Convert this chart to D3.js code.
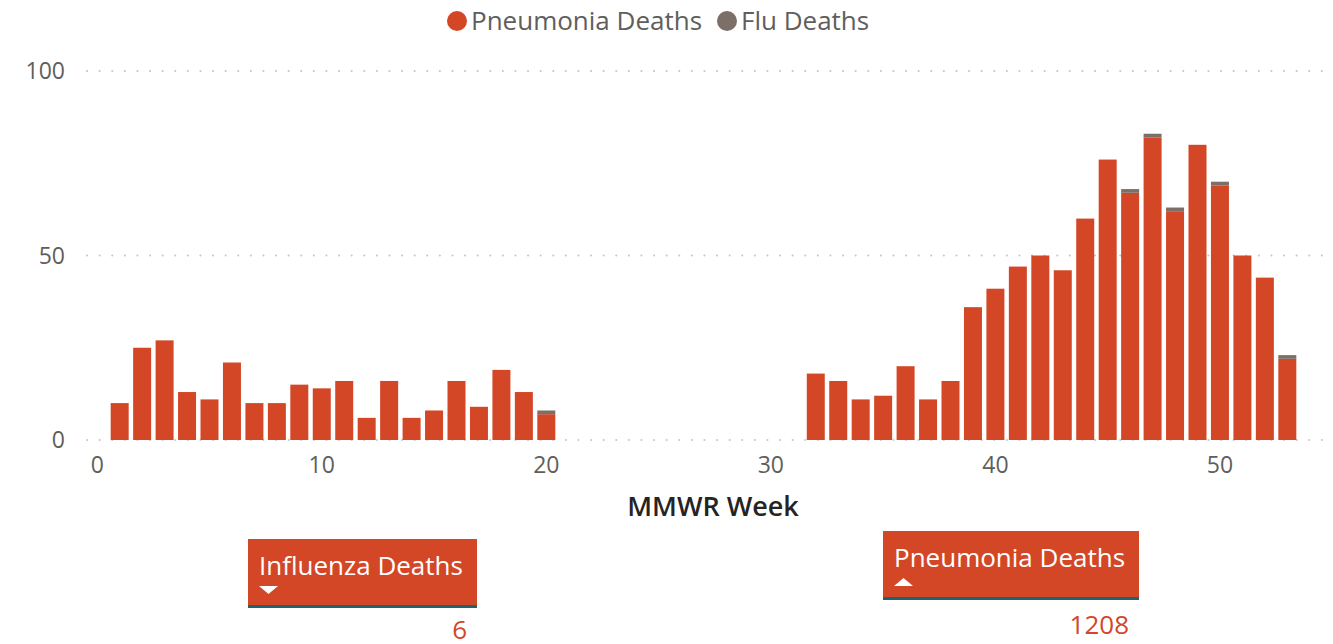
<!DOCTYPE html>
<html>
<head>
<meta charset="utf-8">
<script src="https://cdn.jsdelivr.net/npm/d3@7"></script>
<style>
  body { margin: 0; background: #fff; font-family: "Open Sans", "Noto Sans", sans-serif; }
  .canvas { width: 1333px; height: 644px; }
  .grid line { stroke: #c8c6c4; stroke-width: 2; stroke-dasharray: 0.1 12.5; stroke-linecap: round; }
  .tick-lbl { fill: #605e5c; font-size: 23px; }
</style>
</head>
<body>
<div class="canvas"></div>
<script>
// weeks with data (MMWR week numbers)
var weeks = [1,2,3,4,5,6,7,8,9,10,11,12,13,14,15,16,17,18,19,20,
	32,33,34,35,36,37,38,39,40,41,42,43,44,45,46,47,48,49,50,51,52,53];
var pneumoniaDeaths = [10,25,27,13,11,21,10,10,15,14,16,6,16,6,8,16,9,19,13,7,
	18,16,11,12,20,11,16,36,41,47,50,46,60,76,67,82,62,80,69,50,44,22];
var fluDeaths = [0,0,0,0,0,0,0,0,0,0,0,0,0,0,0,0,0,0,0,1,
	0,0,0,0,0,0,0,0,0,0,0,0,0,0,1,1,1,0,1,0,0,1];
var yTicks = [0, 50, 100];
var xTicks = [0, 10, 20, 30, 40, 50];
var seriesNames = ['Pneumonia Deaths', 'Flu Deaths'];
var colors = ['#d34727', '#7b6f67'];

var width = 1333, height = 644;

var svg = d3.select('.canvas').append('svg')
	.attr('width', width).attr('height', height);

var x = d3.scaleLinear().domain([-0.5, 54.5]).range([86, 1321]);
var y = d3.scaleLinear().domain([0, 100]).range([440, 71]);
var barW = 18;

// gridlines
svg.append('g').attr('class', 'grid')
	.selectAll('line')
	.data(yTicks)
	.enter().append('line')
	.attr('x1', 87).attr('x2', 1325)
	.attr('y1', d => y(d)).attr('y2', d => y(d));

// y labels
svg.append('g').selectAll('text')
	.data(yTicks)
	.enter().append('text')
	.attr('class', 'tick-lbl')
	.attr('x', 65)
	.attr('y', d => y(d))
	.attr('dy', '0.35em')
	.attr('text-anchor', 'end')
	.text(d => d);

// x labels
svg.append('g').selectAll('text')
	.data(xTicks)
	.enter().append('text')
	.attr('class', 'tick-lbl')
	.attr('x', d => x(d))
	.attr('y', 465)
	.attr('dy', '0.35em')
	.attr('text-anchor', 'middle')
	.text(d => d);

svg.append('text')
	.attr('x', 713).attr('y', 507).attr('dy', '0.35em')
	.attr('text-anchor', 'middle')
	.attr('fill', '#252423')
	.attr('font-size', 27).attr('font-weight', 600)
	.text('MMWR Week');

// stacked bars
var rows = weeks.map(function(w, i) {
	return { week: w, p: pneumoniaDeaths[i], f: fluDeaths[i] };
});
var bars = svg.append('g');
bars.selectAll('rect.pn')
	.data(rows)
	.enter().append('rect')
	.attr('x', d => x(d.week) - barW / 2)
	.attr('width', barW)
	.attr('y', d => y(d.p))
	.attr('height', d => y(0) - y(d.p))
	.attr('fill', colors[0]);
bars.selectAll('rect.flu')
	.data(rows.filter(d => d.f > 0))
	.enter().append('rect')
	.attr('x', d => x(d.week) - barW / 2)
	.attr('width', barW)
	.attr('y', d => y(d.p + d.f))
	.attr('height', d => y(d.p) - y(d.p + d.f))
	.attr('fill', colors[1]);

// legend
var legendX = [457, 727];
var lg = svg.append('g').selectAll('g')
	.data(seriesNames)
	.enter().append('g')
	.attr('transform', (d, i) => 'translate(' + legendX[i] + ',21)');
lg.append('circle').attr('r', 10).attr('fill', (d, i) => colors[i]);
lg.append('text')
	.attr('x', 14).attr('dy', '0.35em')
	.attr('fill', '#605e5c').attr('font-size', 26)
	.text(d => d);

// KPI cards
var cards = [
	{ label: 'Influenza Deaths', value: d3.sum(fluDeaths), x: 248, y: 539, w: 229, h: 68, up: false, vx: 467, vy: 630 },
	{ label: 'Pneumonia Deaths', value: d3.sum(pneumoniaDeaths), x: 883, y: 531, w: 256, h: 68, up: true, vx: 1129, vy: 625 }
];
var card = svg.append('g').selectAll('g')
	.data(cards)
	.enter().append('g');
card.append('rect')
	.attr('x', d => d.x).attr('y', d => d.y)
	.attr('width', d => d.w).attr('height', d => d.h)
	.attr('fill', '#d34727');
card.append('rect')
	.attr('x', d => d.x).attr('y', d => d.y + d.h - 2)
	.attr('width', d => d.w).attr('height', 3)
	.attr('fill', '#1d6470');
card.append('text')
	.attr('x', d => d.x + 11).attr('y', d => d.y + 36)
	.attr('fill', '#fff').attr('font-size', 26)
	.text(d => d.label);
card.append('path')
	.attr('d', function(d) {
		var tx = d.x + 11, ty = d.y + 47;
		return d.up
			? 'M' + tx + ',' + (ty + 8) + 'L' + (tx + 19) + ',' + (ty + 8) + 'L' + (tx + 9.5) + ',' + ty + 'Z'
			: 'M' + tx + ',' + ty + 'L' + (tx + 19) + ',' + ty + 'L' + (tx + 9.5) + ',' + (ty + 8) + 'Z';
	})
	.attr('fill', '#fff');
card.append('text')
	.attr('x', d => d.vx).attr('y', d => d.vy).attr('dy', '0.35em')
	.attr('text-anchor', 'end')
	.attr('fill', '#d34727').attr('font-size', 26)
	.text(d => d.value);
</script>
</body>
</html>
